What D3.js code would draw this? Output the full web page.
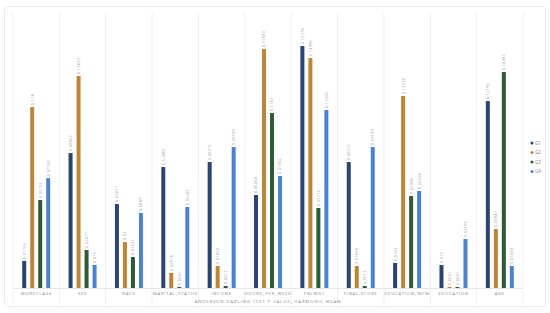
<!DOCTYPE html>
<html><head><meta charset="utf-8">
<script src="https://cdn.jsdelivr.net/npm/d3@7"></script>
<style>body{margin:0;background:#fff;font-family:"Open Sans",sans-serif}</style>
</head><body><svg id="c" width="550" height="313"></svg>
<script>
const categories = ["WORKCLASS","SEX","RACE","MARITAL_STATUS","INCOME","HOURS_PER_WEEK","FNLWGT","FINAL.SCORE","EDUCATION_NUM","EDUCATION","AGE"];
const groups = ["G1","G2","G3","G4"];
const G1 = [0.01765,0.08802,0.05477,0.07889,0.08215,0.06064,0.15778,0.08215,0.0163,0.015,0.12192];
const G2 = [0.1180,0.13823,0.03,0.00978,0.01434,0.15583,0.14996,0.01434,0.12518,0.0007,0.03847];
const G3 = [0.05735,0.02477,0.02021,0.0007,0.0013,0.1141,0.05216,0.0013,0.05998,0.0007,0.14083];
const G4 = [0.07166,0.015,0.0489,0.05281,0.09193,0.07302,0.11606,0.09193,0.06324,0.03195,0.01434];
const series = [G1,G2,G3,G4];
const colors = ["#2c4472","#bb8638","#2f5a37","#4a84d0"];
const axisTitle = "ANDERSON-DARLING TEST P-VALUE, HARMONIC MEAN";

const svg = d3.select("#c");
svg.append("rect").attr("x",4.5).attr("y",6.5).attr("width",541).attr("height",300).attr("rx",3)
  .attr("fill","none").attr("stroke","#ececec");

const x0 = d3.scaleBand().domain(categories).range([13,523]);
const x1 = d3.scaleBand().domain(groups).range([9.2,37.2]).paddingInner(0.5);
const y = d3.scaleLinear().domain([0,0.18]).range([288,12]);

const seps = categories.map(c=>x0(c)).concat([523]);
svg.append("g").selectAll("line").data(seps).join("line")
  .attr("x1",d=>d).attr("x2",d=>d).attr("y1",13).attr("y2",305)
  .attr("stroke","#efefef").attr("stroke-width",1);
svg.append("line").attr("x1",13).attr("x2",523).attr("y1",288.5).attr("y2",288.5).attr("stroke","#e6e6e6");

const data = [];
categories.forEach((c,i)=>groups.forEach((g,j)=>data.push({c,g,j,v:series[j][i]})));

const gb = svg.append("g");
gb.selectAll("rect").data(data).join("rect")
  .attr("x",d=>x0(d.c)+x1(d.g)).attr("width",x1.bandwidth())
  .attr("y",d=>y(d.v)).attr("height",d=>y(0)-y(d.v))
  .attr("fill",d=>colors[d.j]);

gb.selectAll("text").data(data).join("text")
  .attr("transform",d=>`translate(${x0(d.c)+x1(d.g)+x1.bandwidth()/2+1.4},${y(d.v)-2}) rotate(-90)`)
  .attr("font-size",3.8).attr("fill","#999").attr("letter-spacing",0.3)
  .text(d=>d.v.toString().replace(/^0\.(\d{5})\d*$/,"0.$1"));

const xa = d3.axisBottom(x0).tickSize(0).tickPadding(0);
const ax = svg.append("g").attr("transform","translate(0,292)").call(xa);
ax.select(".domain").remove();
ax.selectAll("text").attr("font-size",4.2).attr("fill","#888").attr("letter-spacing",0.75)
  .attr("font-family","'Open Sans',sans-serif").attr("dy","0.71em");

svg.append("text").attr("x",268).attr("y",303).attr("text-anchor","middle")
  .attr("font-size",4.2).attr("fill","#888").attr("letter-spacing",0.9).text(axisTitle);

const lg = svg.append("g").selectAll("g").data(groups).join("g")
  .attr("transform",(d,i)=>`translate(532,${143+i*9.5})`);
lg.append("circle").attr("r",1.5).attr("fill",(d,i)=>colors[i]);
lg.append("text").attr("x",3).attr("dy","0.35em").attr("font-size",4.6).attr("fill","#888").text(d=>d);
</script></body></html>
